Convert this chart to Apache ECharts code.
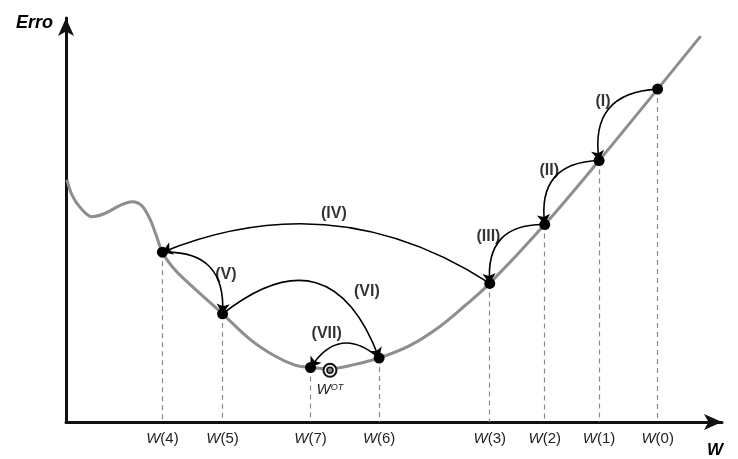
<!DOCTYPE html>
<html>
<head>
<meta charset="utf-8">
<script src="https://cdn.jsdelivr.net/npm/echarts@6/dist/echarts.min.js"></script>
<style>html,body{margin:0;padding:0;background:#fff;}#c{width:738px;height:459px;}</style>
</head>
<body>
<div id="c"></div>
<script>
// Error curve E(W)
const curveX = [0.15, 0.9, 2.2, 4.0, 6.0, 8.3, 10.2, 11.7, 13.0, 13.9, 14.9, 16.8, 19.2, 24.2, 28.4, 32.3, 35.4, 37.8, 40.8, 44.7, 48.4, 53.2, 57.8, 61.7, 65.5, 74.0, 82.4, 91.45, 98.1];
const curveY = [61.4, 57.6, 54.3, 52.0, 52.8, 54.8, 55.8, 54.8, 51.3, 47.5, 43.0, 38.6, 34.8, 27.4, 21.0, 16.7, 14.4, 13.8, 13.5, 14.6, 16.2, 19.4, 24.2, 29.5, 35.1, 50.0, 66.2, 84.3, 97.7];

// Iterates W(0)..W(7)
const wNames = ['W(0)', 'W(1)', 'W(2)', 'W(3)', 'W(4)', 'W(5)', 'W(6)', 'W(7)'];
const wX = [91.45, 82.4, 74.0, 65.5, 14.9, 24.2, 48.4, 37.8];
const wY = [84.3, 66.2, 50.0, 35.1, 43.0, 27.4, 16.2, 13.8];

// Optimum
const optX = [40.8];
const optY = [13.1];

// Step labels and their positions
const stepNames = ['(I)', '(II)', '(III)', '(IV)', '(V)', '(VI)', '(VII)'];
const stepLabelX = [83.0, 74.7, 65.3, 41.4, 24.7, 46.5, 40.3];
const stepLabelY = [81.1, 63.7, 46.9, 52.8, 37.4, 32.9, 22.5];
const stepBend = [-0.55, -0.55, -0.55, -0.26, 0.55, 0.68, -0.57];

const chart = echarts.init(document.getElementById('c'), null, {renderer: 'canvas'});

const curveData = curveX.map((x, i) => [x, curveY[i]]);
const dotData = wX.map((x, i) => [x, wY[i]]);
const dropData = wX.map((x, i) => ({coords: [[x, wY[i]], [x, 0]]}));
const arcData = stepNames.map((n, i) => ({
  coords: [[wX[i], wY[i]], [wX[i + 1], wY[i + 1]]],
  lineStyle: {curveness: stepBend[i]}
}));
const stepLabelData = stepNames.map((n, i) => ({value: [stepLabelX[i], stepLabelY[i]], name: n}));

chart.setOption({
  animation: false,
  backgroundColor: '#ffffff',
  grid: {left: 66, right: 16, top: 18, bottom: 36},
  xAxis: {
    type: 'value', min: 0, max: 101.4,
    name: 'W', nameLocation: 'end', nameGap: -7,
    nameTextStyle: {fontFamily: 'Liberation Sans', fontWeight: 'bold', fontStyle: 'italic', fontSize: 17, color: '#000',
      align: 'center', verticalAlign: 'top', padding: [20, 0, 0, 0]},
    axisLine: {show: true, onZero: false, lineStyle: {color: '#111', width: 3}, symbol: ['none', 'arrow'], symbolSize: [12, 18]},
    axisTick: {show: false},
    splitLine: {show: false},
    axisLabel: {
      show: true, margin: 9, customValues: wX,
      formatter: function (v) {
        const i = wX.indexOf(v);
        return i < 0 ? '' : '{i|W}{n|' + wNames[i].slice(1) + '}';
      },
      rich: {
        i: {fontFamily: 'Liberation Sans', fontStyle: 'italic', fontSize: 15, color: '#222'},
        n: {fontFamily: 'Liberation Sans', fontSize: 15, color: '#222'}
      }
    }
  },
  yAxis: {
    type: 'value', min: 0, max: 102.3,
    name: 'Erro', nameLocation: 'end', nameGap: -5,
    nameTextStyle: {fontFamily: 'Liberation Sans', fontWeight: 'bold', fontStyle: 'italic', fontSize: 18, color: '#000',
      align: 'right', verticalAlign: 'middle', padding: [0, 13, 0, 0]},
    axisLine: {show: true, onZero: false, lineStyle: {color: '#111', width: 3}, symbol: ['none', 'arrow'], symbolSize: [12, 18]},
    axisTick: {show: false},
    splitLine: {show: false},
    axisLabel: {show: false}
  },
  series: [
    {
      type: 'lines', coordinateSystem: 'cartesian2d', z: 1, silent: true,
      lineStyle: {color: '#8a8a8a', width: 1.2, type: [5, 4], opacity: 1},
      data: dropData
    },
    {
      type: 'line', z: 2, smooth: 0.35, symbol: 'none', silent: true,
      lineStyle: {color: '#8e8e8e', width: 3},
      data: curveData
    },
    {
      type: 'lines', coordinateSystem: 'cartesian2d', z: 3, silent: true,
      symbol: ['none', 'arrow'], symbolSize: 10,
      lineStyle: {color: '#000', width: 1.6, opacity: 1},
      data: arcData
    },
    {
      type: 'scatter', z: 5, symbol: 'circle', symbolSize: 11, silent: true,
      itemStyle: {color: '#000', opacity: 1},
      data: dotData
    },
    {
      type: 'scatter', z: 5, symbol: 'circle', symbolSize: 13, silent: true,
      itemStyle: {color: '#fff', borderColor: '#111', borderWidth: 2, opacity: 1},
      label: {show: true, position: 'bottom', distance: 5,
        formatter: '{w|W}{s|OT}',
        rich: {
          w: {fontFamily: 'Liberation Sans', fontStyle: 'italic', fontSize: 15, color: '#222'},
          s: {fontFamily: 'Liberation Sans', fontStyle: 'italic', fontSize: 9, color: '#222', verticalAlign: 'top', padding: [0, 0, 6, 0]}
        }
      },
      data: optX.map((x, i) => [x, optY[i]])
    },
    {
      type: 'scatter', z: 6, symbol: 'circle', symbolSize: 6, silent: true,
      itemStyle: {color: '#888', borderColor: '#111', borderWidth: 1.5, opacity: 1},
      data: optX.map((x, i) => [x, optY[i]])
    },
    {
      type: 'scatter', z: 6, symbolSize: 0, silent: true,
      label: {show: true, position: 'inside', formatter: '{b}',
        fontFamily: 'Liberation Sans', fontWeight: 'bold', fontSize: 16, color: '#000'},
      data: stepLabelData
    }
  ]
});
</script>
</body>
</html>
